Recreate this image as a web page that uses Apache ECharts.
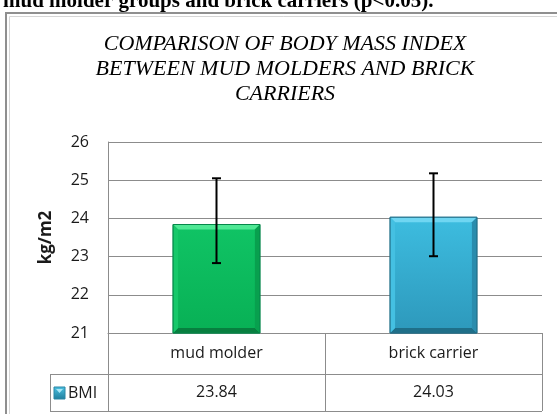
<!DOCTYPE html>
<html>
<head>
<meta charset="utf-8">
<script src="https://cdn.jsdelivr.net/npm/echarts@6/dist/echarts.min.js"></script>
<style>html,body{margin:0;padding:0;background:#fff}#c{width:557px;height:414px}</style>
</head>
<body>
<div id="c"></div>
<script>
const categories = ['mud molder', 'brick carrier'];
const seriesName = 'BMI';
const bmiValues = [23.84, 24.03];
const errLow = [22.83, 23.01];
const errHigh = [25.05, 25.18];
const yMin = 21, yMax = 26, yInterval = 1;
const titleText = 'COMPARISON OF BODY MASS INDEX\nBETWEEN MUD MOLDERS AND BRICK\nCARRIERS';
const captionText = 'mud molder groups and brick carriers (p<0.05).';
const yName = 'kg/m2';

const G = {left: 108, top: 142, width: 434, height: 191};
const rowH1 = 41, rowH2 = 37, legendLeft = 50;
const gridColor = '#8c8c8c';
const SANS = '"Open Sans", "Noto Sans", sans-serif';

const palettes = [
  {main: ['#10c465', '#08b055'], top: '#4fe895', bottom: '#077f3f', left: '#17c86a', right: '#08a04e', stroke: '#06874a'},
  {main: ['#3dbde0', '#2d98bb'], top: '#6fd6f2', bottom: '#1f6f89', left: '#44c0e2', right: '#2a8cad', stroke: '#226f88'}
];

const chart = echarts.init(document.getElementById('c'), null, {renderer: 'canvas'});
const gBottom = G.top + G.height;
const gRight = G.left + G.width;

chart.setOption({
  backgroundColor: '#fff',
  animation: false,
  grid: G,
  xAxis: [{
    type: 'category', data: categories, gridIndex: 0, position: 'bottom',
    axisLine: {show: true, lineStyle: {color: gridColor, width: 1}},
    axisTick: {show: true, length: rowH1 + rowH2, lineStyle: {color: gridColor}},
    axisLabel: {margin: 12, fontSize: 16, color: '#1a1a1a', fontFamily: SANS}
  }, {
    type: 'category', data: categories, gridIndex: 0, position: 'bottom', offset: rowH1,
    axisLine: {show: false}, axisTick: {show: false},
    axisLabel: {margin: 10, fontSize: 16, color: '#1a1a1a', fontFamily: SANS,
      formatter: (v, i) => bmiValues[i].toFixed(2)}
  }],
  yAxis: {
    type: 'value', min: yMin, max: yMax, interval: yInterval,
    axisLine: {show: true, lineStyle: {color: gridColor}},
    axisTick: {show: false},
    splitLine: {lineStyle: {color: gridColor}},
    axisLabel: {margin: 19, fontSize: 16, color: '#1a1a1a', fontFamily: SANS},
    name: yName, nameLocation: 'middle', nameGap: 53,
    nameTextStyle: {fontSize: 17, fontWeight: 'bold', color: '#1a1a1a', fontFamily: SANS}
  },
  series: [{
    type: 'custom', name: seriesName,
    data: bmiValues.map((v, i) => [i, v]),
    renderItem: (params, api) => {
      const i = api.value(0);
      const top = api.coord([i, api.value(1)]);
      const base = api.coord([i, yMin]);
      const w = api.size([1, 0])[0] * 0.4;
      const x0 = top[0] - w / 2, x1 = top[0] + w / 2, yT = top[1], yB = base[1];
      const b = 5;
      const p = palettes[i];
      return {type: 'group', children: [
        {type: 'rect', shape: {x: x0, y: yT, width: w, height: yB - yT},
          style: {fill: new echarts.graphic.LinearGradient(0, 0, 0, 1, [{offset: 0, color: p.main[0]}, {offset: 1, color: p.main[1]}]), stroke: p.stroke, lineWidth: 1}},
        {type: 'polygon', shape: {points: [[x0, yT], [x1, yT], [x1 - b, yT + b], [x0 + b, yT + b]]}, style: {fill: p.top}},
        {type: 'polygon', shape: {points: [[x0, yB], [x1, yB], [x1 - b, yB - b], [x0 + b, yB - b]]}, style: {fill: p.bottom}},
        {type: 'polygon', shape: {points: [[x0, yT], [x0 + b, yT + b], [x0 + b, yB - b], [x0, yB]]}, style: {fill: p.left}},
        {type: 'polygon', shape: {points: [[x1, yT], [x1 - b, yT + b], [x1 - b, yB - b], [x1, yB]]}, style: {fill: p.right}},
        {type: 'rect', shape: {x: x0, y: yT, width: w, height: yB - yT}, style: {fill: 'none', stroke: p.stroke, lineWidth: 1}}
      ]};
    }
  }, {
    type: 'custom', name: 'error',
    data: errLow.map((lo, i) => [i, lo, errHigh[i]]),
    z: 10,
    renderItem: (params, api) => {
      const i = api.value(0);
      const lo = api.coord([i, api.value(1)]);
      const hi = api.coord([i, api.value(2)]);
      const c = 4.5;
      const st = {stroke: '#000', lineWidth: 2};
      return {type: 'group', children: [
        {type: 'line', shape: {x1: lo[0], y1: lo[1], x2: hi[0], y2: hi[1]}, style: st},
        {type: 'line', shape: {x1: lo[0] - c, y1: lo[1], x2: lo[0] + c, y2: lo[1]}, style: st},
        {type: 'line', shape: {x1: hi[0] - c, y1: hi[1], x2: hi[0] + c, y2: hi[1]}, style: st}
      ]};
    }
  }],
  graphic: [
    {type: 'rect', shape: {x: 6, y: 13, width: 620, height: 460}, style: {fill: 'none', stroke: '#8f8f8f', lineWidth: 2}, silent: true},
    {type: 'rect', shape: {x: 9.5, y: 16.5, width: 620, height: 460}, style: {fill: 'none', stroke: '#d6d6d6', lineWidth: 1}, silent: true},
    {type: 'text', x: 3, y: 12, style: {text: captionText, font: 'bold 21px "Liberation Serif", "Times New Roman", serif', fill: '#000', textAlign: 'left', textVerticalAlign: 'bottom'}},
    {type: 'text', x: 285, y: 32, style: {text: titleText, font: 'italic 22px "Liberation Serif", "Times New Roman", serif', lineHeight: 25, fill: '#000', textAlign: 'center', textVerticalAlign: 'top'}},
    {type: 'line', shape: {x1: legendLeft, y1: gBottom + rowH1 + 0.5, x2: gRight, y2: gBottom + rowH1 + 0.5}, style: {stroke: gridColor, lineWidth: 1}},
    {type: 'line', shape: {x1: legendLeft, y1: gBottom + rowH1 + rowH2 + 0.5, x2: gRight, y2: gBottom + rowH1 + rowH2 + 0.5}, style: {stroke: gridColor, lineWidth: 1}},
    {type: 'line', shape: {x1: legendLeft + 0.5, y1: gBottom + rowH1, x2: legendLeft + 0.5, y2: gBottom + rowH1 + rowH2}, style: {stroke: gridColor, lineWidth: 1}},
    {type: 'rect', shape: {x: 54, y: 387, width: 11, height: 12},
      style: {fill: new echarts.graphic.LinearGradient(0, 0, 0, 1, [{offset: 0, color: '#4cc3e4'}, {offset: 1, color: '#1f7d9c'}]), stroke: '#2a86a5', lineWidth: 1}},
    {type: 'polygon', shape: {points: [[56, 389], [63, 389], [59.5, 393]]}, style: {fill: '#a8e6f7'}},
    {type: 'text', x: 68, y: gBottom + rowH1 + rowH2 / 2 + 1, style: {text: seriesName, font: '16px "Open Sans", "Noto Sans", sans-serif', fill: '#1a1a1a', textAlign: 'left', textVerticalAlign: 'middle'}}
  ]
});
</script>
</body>
</html>
